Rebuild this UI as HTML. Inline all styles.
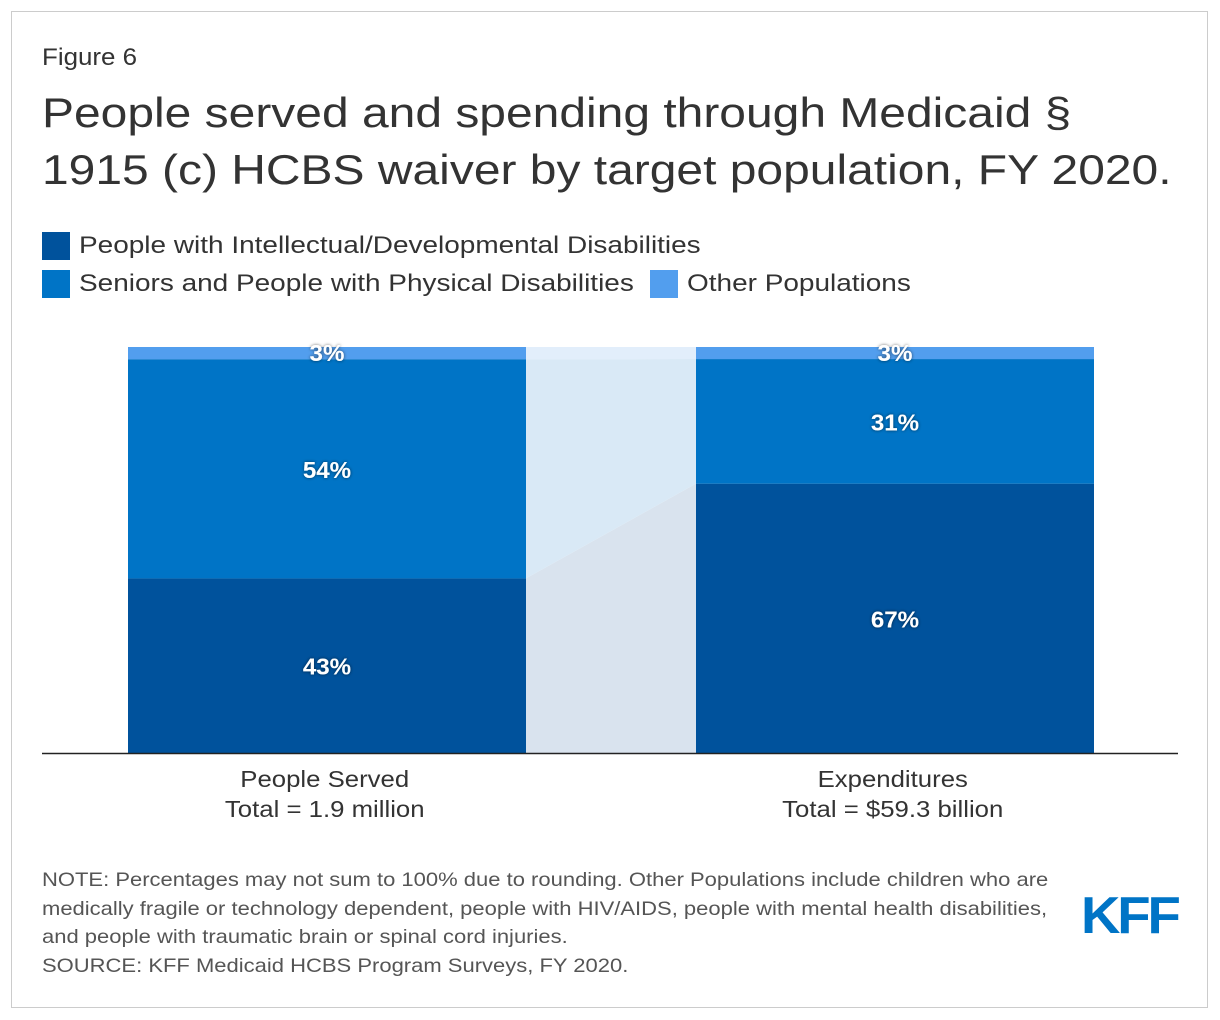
<!DOCTYPE html>
<html><head><meta charset="utf-8"><style>
body{margin:0;width:1220px;height:1020px;background:#fff;font-family:"Liberation Sans",Arial,sans-serif;position:relative;overflow:hidden}
.frame{position:absolute;left:11px;top:11px;width:1197px;height:997px;border:1px solid #ccc;box-sizing:border-box}
.t{position:absolute;color:#333;transform-origin:0 0;white-space:nowrap}
.sw{display:inline-block;width:28px;height:28px}
.leg{position:absolute;font-size:24px;color:#333;white-space:nowrap;display:flex;align-items:center}
.leg span.tx{display:inline-block;transform:scaleX(1.165);transform-origin:0 50%;margin-left:9px}
.note{position:absolute;left:42px;top:866px;font-size:19.5px;line-height:28.5px;color:#555;transform:scaleX(1.128);transform-origin:0 0;white-space:nowrap}
</style></head><body>
<div class="frame"></div>
<div class="t" style="left:42px;top:44px;font-size:24px;transform:scaleX(1.08)">Figure 6</div>
<div class="t" style="left:42px;top:84px;font-size:42px;line-height:57px;transform:scaleX(1.142)">People served and spending through Medicaid §<br>1915 (c) HCBS waiver by target population, FY 2020.</div>
<div class="leg" style="left:42px;top:232px"><span class="sw" style="background:#00529c"></span><span class="tx">People with Intellectual/Developmental Disabilities</span></div>
<div class="leg" style="left:42px;top:270px"><span class="sw" style="background:#0074c6"></span><span class="tx">Seniors and People with Physical Disabilities</span></div>
<div class="leg" style="left:650px;top:270px"><span class="sw" style="background:#529eee"></span><span class="tx">Other Populations</span></div>
<svg id="chart" width="1220" height="1020" style="position:absolute;left:0;top:0">
<defs><filter id="sh"><feDropShadow dx="0" dy="0" stdDeviation="1.5" flood-color="#000" flood-opacity="0.6"/></filter></defs>
</svg>
<div class="note">NOTE: Percentages may not sum to 100% due to rounding. Other Populations include children who are<br>medically fragile or technology dependent, people with HIV/AIDS, people with mental health disabilities,<br>and people with traumatic brain or spinal cord injuries.<br>SOURCE: KFF Medicaid HCBS Program Surveys, FY 2020.</div>
<div class="t" style="left:1081px;top:886px;font-size:52px;font-weight:bold;color:#0074c6;letter-spacing:-3px;transform:scaleX(1.05)">KFF</div>
<script>
const categories=["People Served","Expenditures"];
const totals=["Total = 1.9 million","Total = $59.3 billion"];
const idd=[43,67];
const seniors=[54,31];
const other=[3,3];
const series=[idd,seniors,other];
const seriesNames=["idd","seniors","other"];
const colors=["#00529c","#0074c6","#529eee"];
const ns="http://www.w3.org/2000/svg";
const svg=document.getElementById('chart');
const base=753,top0=347,H=base-top0;
const barX=[128,696],barW=398;
function mk(t,a){const e=document.createElementNS(ns,t);for(const k in a)e.setAttribute(k,a[k]);svg.appendChild(e);return e;}
const bounds=categories.map((c,i)=>{const s=series.reduce((a,r)=>a+r[i],0);let acc=0;const b=[base];series.forEach(r=>{acc+=r[i];b.push(base-acc/s*H);});return b;});
const cx1=barX[0]+barW,cx2=barX[1];
const connColors=["#d9e3ee","#d9e9f6","#e2eefb"];
for(let k=0;k<3;k++){
 const p=mk('polygon',{points:`${cx1},${bounds[0][k]} ${cx2},${bounds[1][k]} ${cx2},${bounds[1][k+1]} ${cx1},${bounds[0][k+1]}`,fill:connColors[k]});
 
 
}
categories.forEach((c,i)=>{
 const cx=barX[i]+barW/2;
 series.forEach((r,k)=>{
  const y0=bounds[i][k+1],y1=bounds[i][k];
  const rc=mk('rect',{x:barX[i],y:y0,width:barW,height:y1-y0,fill:colors[k]});
  
  
  const ty=k==2?y0+14:(y0+y1)/2+9;
  const tx=mk('text',{x:cx,y:ty,'text-anchor':'middle','font-size':'23','font-weight':'bold',fill:'#fff',filter:'url(#sh)','font-family':'Liberation Sans, sans-serif',transform:`translate(${cx},0) scale(1.05,1) translate(${-cx},0)`});
  tx.textContent=r[i]+'%';
  
  
 });
 [c,totals[i]].forEach((s,j)=>{
  const t=mk('text',{x:cx-2,y:787+j*30,'text-anchor':'middle','font-size':'23',fill:'#333','font-family':'Liberation Sans, sans-serif',transform:`translate(${cx},0) scale(1.12,1) translate(${-cx},0)`});
  t.textContent=s;
  
  
 });
});
const ax=mk('line',{x1:42,x2:1178,y1:base+0.5,y2:base+0.5,stroke:'#222','stroke-width':1.5});


</script>
</body></html>
